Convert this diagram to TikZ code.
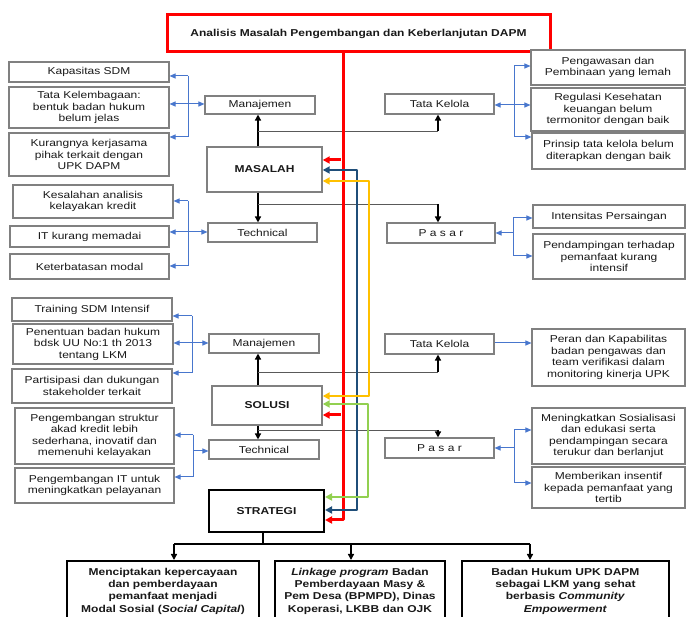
\documentclass[tikz,border=0pt]{standalone}
\usepackage{fontspec}
\setmainfont{Liberation Sans}[FakeStretch=1.2]
\usetikzlibrary{arrows.meta}
\definecolor{cred}{RGB}{255,0,0}
\definecolor{cnavy}{RGB}{31,78,121}
\definecolor{cyel}{RGB}{255,192,0}
\definecolor{cgrn}{RGB}{146,208,80}
\definecolor{cblue}{RGB}{72,118,205}
\definecolor{bgray}{RGB}{128,128,128}
\begin{document}
\begin{tikzpicture}[x=1pt,y=-1pt,
  sz/.style 2 args={minimum width=#1, minimum height=#2},
  box/.style={draw=bgray, line width=1.1pt, fill=white, align=center, inner sep=0pt,
    font=\fontsize{10}{11.5}\selectfont, text=black!90},
  mainbox/.style={box, line width=1.4pt, font=\fontsize{10}{12}\selectfont\bfseries},
  strbox/.style={box, draw=black, line width=2pt, font=\fontsize{10}{12}\selectfont\bfseries},
  bbox/.style={box, draw=black, line width=2pt, font=\fontsize{10}{12.3}\selectfont\bfseries},
  bline/.style={draw=cblue, line width=1pt},
  barrow/.style={bline, -{Triangle[length=6pt,width=5pt]}},
  barrowb/.style={bline, {Triangle[length=6pt,width=5pt]}-{Triangle[length=6pt,width=5pt]}},
  blk/.style={draw=black, line width=1.4pt, -{Triangle[length=6pt,width=6pt]}},
  blkline/.style={draw=black, line width=1.4pt},
  glink/.style={draw=black!65, line width=0.8pt},
  colr/.style={line width=#1, line join=round},
  ctip/.style={-{Triangle[length=7pt,width=7pt]}},
  ctipb/.style={{Triangle[length=7pt,width=7pt]}-{Triangle[length=7pt,width=7pt]}}
]
\useasboundingbox (0,0) rectangle (686,617);

% title
\node[box, sz={383pt}{37pt}, draw=cred, line width=3pt, font=\fontsize{10}{12}\selectfont\bfseries] (title) at (358.5,33.5) {Analisis Masalah Pengembangan dan Keberlanjutan DAPM};

% ---------- MASALAH ----------
\node[box,sz={160pt}{20pt}] (kap) at (89,72) {Kapasitas SDM};
\node[box,sz={160pt}{41pt}] (tkl) at (89,107.5) {Tata Kelembagaan:\\bentuk badan hukum\\belum jelas};
\node[box,sz={160pt}{43pt}] (kur) at (89,154.5) {Kurangnya kerjasama\\pihak terkait dengan\\UPK DAPM};
\node[box,sz={110pt}{18pt}] (man1) at (260,105) {Manajemen};
\node[mainbox,sz={115pt}{45pt}] (mas) at (264.5,169.5) {MASALAH};
\node[box,sz={109pt}{20pt}] (tk1) at (439.5,104) {Tata Kelola};
\node[box,sz={154pt}{35pt}] (peng) at (608,67.5) {Pengawasan dan\\Pembinaan yang lemah};
\node[box,sz={154pt}{43pt}] (reg) at (608,109.5) {Regulasi Kesehatan\\keuangan belum\\termonitor dengan baik};
\node[box,sz={153pt}{36pt}] (prin) at (608.5,151) {Prinsip tata kelola belum\\diterapkan dengan baik};

\node[box,sz={160pt}{33pt}] (kes) at (93,201.5) {Kesalahan analisis\\kelayakan kredit};
\node[box,sz={159pt}{21pt}] (itk) at (89.5,236.5) {IT kurang memadai};
\node[box,sz={159pt}{25pt}] (ket) at (89.5,266.5) {Keterbatasan modal};
\node[box,sz={109pt}{19pt}] (tech1) at (262.5,232.5) {Technical};
\node[box,sz={108pt}{20pt}] (pas1) at (441,233) {P a s a r};
\node[box,sz={152pt}{23pt}] (int) at (609,216.5) {Intensitas Persaingan};
\node[box,sz={152pt}{45pt}] (pend) at (609,256.5) {Pendampingan terhadap\\pemanfaat kurang\\intensif};

% ---------- SOLUSI ----------
\node[box,sz={160pt}{23pt}] (train) at (92,309.5) {Training SDM Intensif};
\node[box,sz={160pt}{40pt}] (pen) at (93,344) {Penentuan badan hukum\\bdsk UU No:1 th 2013\\tentang LKM};
\node[box,sz={160pt}{34pt}] (par) at (92,386) {Partisipasi dan dukungan\\stakeholder terkait};
\node[box,sz={110pt}{19pt}] (man2) at (264,343.5) {Manajemen};
\node[mainbox,sz={110pt}{39pt}] (sol) at (267,405.5) {SOLUSI};
\node[box,sz={109pt}{20pt}] (tk2) at (439.5,344) {Tata Kelola};
\node[box,sz={153pt}{57pt}] (peran) at (608.5,357.5) {Peran dan Kapabilitas\\badan pengawas dan\\team verifikasi dalam\\monitoring kinerja UPK};
\node[box,sz={110pt}{19pt}] (tech2) at (264,449.5) {Technical};
\node[box,sz={109pt}{20pt}] (pas2) at (439.5,448) {P a s a r};
\node[box,sz={159pt}{56pt}] (pstr) at (94.5,436) {Pengembangan struktur\\akad kredit lebih\\sederhana, inovatif dan\\memenuhi kelayakan};
\node[box,sz={159pt}{35pt}] (pit) at (94.5,485.5) {Pengembangan IT untuk\\meningkatkan pelayanan};
\node[box,sz={153pt}{56pt}] (meni) at (608.5,436) {Meningkatkan Sosialisasi\\dan edukasi serta\\pendampingan secara\\terukur dan berlanjut};
\node[box,sz={153pt}{41pt}] (memb) at (608.5,487.5) {Memberikan insentif\\kepada pemanfaat yang\\tertib};

% ---------- STRATEGI ----------
\node[strbox,sz={115pt}{42pt}] (stra) at (266.5,511) {STRATEGI};
\node[bbox,sz={192pt}{60pt}] (b1) at (163,591) {Menciptakan kepercayaan\\dan pemberdayaan\\pemanfaat menjadi\\Modal Sosial (\textit{Social Capital})};
\node[bbox,sz={170pt}{60pt}] (b2) at (360,591) {\textit{Linkage program} Badan\\Pemberdayaan Masy \&\\Pem Desa (BPMPD), Dinas\\Koperasi, LKBB dan OJK};
\node[bbox,sz={207pt}{60pt}] (b3) at (565.5,591) {Badan Hukum UPK DAPM\\sebagai LKM yang sehat\\berbasis \textit{Community}\\\textit{Empowerment}};

% ---------- blue brackets ----------
% left 1
\coordinate (la1) at (188,76); \coordinate (la2) at (188,104); \coordinate (la3) at (188,137);
\draw[bline] (la1) -- (la3);
\draw[barrow] (la1) -- (kap.east |- la1);
\draw[barrow] (la3) -- (kur.east |- la3);
\draw[barrowb] (tkl.east |- la2) -- (man1.west |- la2);
% right 1
\coordinate (ra1) at (514,66); \coordinate (ra2) at (514,105); \coordinate (ra3) at (514,137);
\draw[bline] (ra1) -- (ra3);
\draw[barrow] (ra1) -- (peng.west |- ra1);
\draw[barrow] (ra3) -- (prin.west |- ra3);
\draw[barrowb] (tk1.east |- ra2) -- (reg.west |- ra2);
% left 2
\coordinate (lb1) at (188,201); \coordinate (lb2) at (188,232); \coordinate (lb3) at (188,266);
\draw[bline] (lb1) -- (lb3);
\draw[barrow] (lb1) -- (kes.east |- lb1);
\draw[barrow] (lb3) -- (ket.east |- lb3);
\draw[barrowb] (itk.east |- lb2) -- (tech1.west |- lb2);
% right 2
\coordinate (rb1) at (513,218); \coordinate (rb2) at (513,233); \coordinate (rb3) at (513,256);
\draw[bline] (rb1) -- (rb3);
\draw[barrow] (rb1) -- (int.west |- rb1);
\draw[barrow] (rb3) -- (pend.west |- rb3);
\draw[barrow] (rb2) -- (pas1.east |- rb2);
% left 3
\coordinate (lc1) at (192,316); \coordinate (lc2) at (192,343); \coordinate (lc3) at (192,373);
\draw[bline] (lc1) -- (lc3);
\draw[barrow] (lc1) -- (train.east |- lc1);
\draw[barrow] (lc3) -- (par.east |- lc3);
\draw[barrowb] (pen.east |- lc2) -- (man2.west |- lc2);
% right 3
\coordinate (rc) at (494,343);
\draw[barrow] (tk2.east |- rc) -- (peran.west |- rc);
% left 4
\coordinate (ld1) at (193,435); \coordinate (ld2) at (193,451); \coordinate (ld3) at (193,477);
\draw[bline] (ld1) -- (ld3);
\draw[barrow] (ld1) -- (pstr.east |- ld1);
\draw[barrow] (ld3) -- (pit.east |- ld3);
\draw[barrow] (ld2) -- (tech2.west |- ld2);
% right 4
\coordinate (rd1) at (514,430); \coordinate (rd2) at (514,448); \coordinate (rd3) at (514,483);
\draw[bline] (rd1) -- (rd3);
\draw[barrow] (rd1) -- (meni.west |- rd1);
\draw[barrow] (rd3) -- (memb.west |- rd3);
\draw[barrow] (rd2) -- (pas2.east |- rd2);

% ---------- black stems ----------
\coordinate (s1) at (258,131); \coordinate (t1) at (438,131);
\draw[blk] (mas.north -| s1) -- (man1.south -| s1);
\draw[glink] (s1) -- (t1);
\draw[blk] (t1) -- (tk1.south -| t1);
\coordinate (s2) at (258,204); \coordinate (t2) at (438,204);
\draw[blk] (mas.south -| s2) -- (tech1.north -| s2);
\draw[glink] (s2) -- (t2);
\draw[blk] (t2) -- (pas1.north -| t2);
\coordinate (s3) at (258,372); \coordinate (t3) at (438,372);
\draw[blk] (sol.north -| s3) -- (man2.south -| s3);
\draw[glink] (s3) -- (t3);
\draw[blk] (t3) -- (tk2.south -| t3);
\coordinate (s4) at (258,430); \coordinate (t4) at (438,430);
\draw[blk] (sol.south -| s4) -- (tech2.north -| s4);
\draw[glink] (s4) -- (t4);
\draw[blk] (t4) -- (pas2.north -| t4);
% strategi fan-out
\coordinate (j0) at (263,544); \coordinate (j1) at (174,544); \coordinate (j2) at (351,544); \coordinate (j3) at (530,544);
\draw[blkline] (stra.south -| j0) -- (j0);
\draw[blkline] (j1) -- (j3);
\draw[blk] (j1) -- (b1.north -| j1);
\draw[blk] (j2) -- (b2.north -| j2);
\draw[blk] (j3) -- (b3.north -| j3);

% ---------- coloured links ----------
\coordinate (r1) at (343,520); \coordinate (r2) at (341,160); \coordinate (r3) at (341,415);
\draw[colr=3pt, draw=cred, ctip] (title.south -| r1) -- (r1) -- (stra.east |- r1);
\draw[colr=3pt, draw=cred, ctip] (r2) -- (mas.east |- r2);
\draw[colr=3pt, draw=cred, ctip] (r3) -- (sol.east |- r3);
\coordinate (n1) at (357,170); \coordinate (n2) at (357,510);
\draw[colr=2.6pt, draw=cnavy, ctipb] (mas.east |- n1) -- (n1) -- (n2) -- (stra.east |- n2);
\coordinate (y1) at (369,181); \coordinate (y2) at (369,396);
\draw[colr=2.6pt, draw=cyel, ctipb] (mas.east |- y1) -- (y1) -- (y2) -- (sol.east |- y2);
\coordinate (g1) at (368,404); \coordinate (g2) at (368,497);
\draw[colr=2.6pt, draw=cgrn, ctipb] (sol.east |- g1) -- (g1) -- (g2) -- (stra.east |- g2);
\end{tikzpicture}
\end{document}
